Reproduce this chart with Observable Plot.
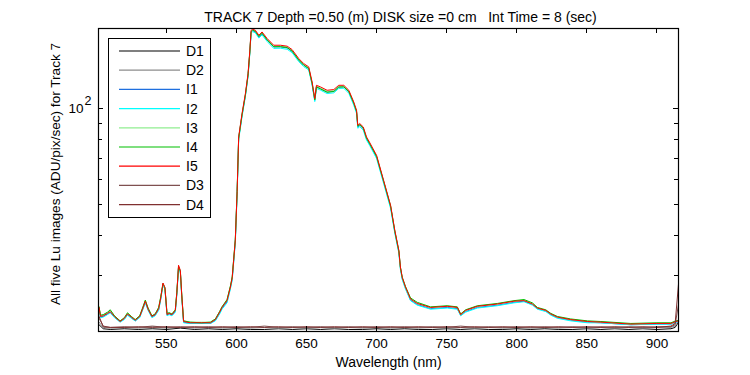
<!DOCTYPE html>
<html><head><meta charset="utf-8">
<script src="https://cdn.jsdelivr.net/npm/d3@7"></script>
<script src="https://cdn.jsdelivr.net/npm/@observablehq/plot@0.6"></script>
<style>
body{margin:0;background:#fff}
svg{font-family:"Liberation Sans",Arial,sans-serif}
</style>
</head><body><div id="chart"></div>
<script>
// ---- data ----
const title = "TRACK 7 Depth =0.50 (m) DISK size =0 cm   Int Time = 8 (sec)";
const xLabel = "Wavelength (nm)";
const yLabel = "All five Lu images (ADU/pix/sec) for Track 7";
const xTicks = [550, 600, 650, 700, 750, 800, 850, 900];
const yMajorTicks = [100];
const yMajorBase = "10";
const yMajorExponent = "2";
const yMinorTicks = [20, 30, 40, 50, 60, 70, 80, 90];
const seriesNames = ["D1", "D2", "I1", "I2", "I3", "I4", "I5", "D3", "D4"];
const seriesColors = ["#000000", "#8c8c8c", "#1f6fdf", "#00ffff", "#90ee90", "#00c000", "#ff0000", "#7f5050", "#803030"];

// wavelengths for the illuminated (I) spectra
const wl = [
  502, 503, 505, 508, 510, 513, 517, 520, 522.3, 525,
  527.8, 531, 533, 535, 537, 539.7, 542, 544.5, 546, 547.6,
  549, 550.5, 552, 554, 556.4, 557.5, 558.7, 560, 561, 562.3,
  567, 575, 581.4, 585, 588, 589.7, 593.3, 595.7, 597, 598,
  599.2, 600.5, 601.6, 604, 606.4, 608.3, 609.5, 610.5, 611.5, 613.5,
  616, 618.3, 621.9, 626.6, 631.4, 636.2, 639.7, 644.5, 648, 651.6,
  654, 655.9, 657.1, 660, 664.7, 669.5, 673, 676.6, 680.2, 683.7,
  685.7, 686.6, 688, 690.5, 692.8, 695, 700, 705, 710, 713,
  715.9, 717, 718.3, 720.6, 724.2, 729, 738.5, 750.4, 757.6, 760,
  763.5, 771.9, 786.2, 798, 805.2, 811.2, 814.7, 820.7, 824.3, 829,
  838.5, 850.4, 860, 881.4, 900, 910, 913.5, 915.4
];
const I1 = [
  23.7, 22.2, 22.3, 22.7, 23.0, 22.2, 21.5, 21.9, 22.6, 22.1,
  21.6, 22.2, 23.4, 24.7, 23.4, 22.2, 22.5, 23.4, 25.3, 28.1,
  27.2, 22.5, 22.7, 22.5, 23.1, 26.3, 31.9, 30.8, 25.8, 21.4,
  21.2, 21.2, 21.2, 21.7, 22.8, 23.6, 24.8, 27.4, 29.2, 33.0,
  38.3, 54.3, 80.7, 95.4, 110.4, 127.6, 149.3, 174.6, 176.0, 174.9,
  168.4, 172.4, 164.5, 156.6, 156.7, 155.5, 151.8, 142.2, 137.2, 133.9,
  120.0, 106.5, 117.2, 115.8, 113.0, 113.6, 117.2, 117.3, 113.1, 103.9,
  97.9, 87.8, 88.9, 86.7, 80.7, 77.6, 70.6, 59.0, 49.2, 41.1,
  35.5, 31.6, 29.3, 27.4, 25.1, 24.3, 23.6, 23.8, 23.6, 22.5,
  23.1, 23.8, 24.2, 24.7, 24.9, 24.3, 23.6, 23.2, 22.6, 22.1,
  21.7, 21.4, 21.3, 21.0, 21.1, 21.1, 21.4, 21.5
];
const I2 = [
  23.6, 22.1, 22.2, 22.6, 22.9, 22.1, 21.4, 21.8, 22.5, 22.0,
  21.6, 22.1, 23.3, 24.6, 23.3, 22.1, 22.4, 23.3, 25.2, 28.0,
  27.1, 22.4, 22.6, 22.4, 23.0, 26.1, 31.6, 30.6, 25.6, 21.3,
  21.2, 21.2, 21.2, 21.6, 22.7, 23.5, 24.6, 27.2, 29.0, 32.8,
  38.0, 53.8, 80.0, 94.5, 109.5, 126.5, 148.0, 173.0, 175.0, 173.5,
  167.0, 170.8, 163.0, 155.0, 155.2, 154.0, 150.3, 140.8, 135.9, 132.6,
  118.9, 105.5, 116.0, 114.6, 111.8, 112.4, 116.0, 116.2, 112.0, 102.8,
  96.9, 87.0, 88.0, 85.8, 79.9, 76.9, 69.9, 58.4, 48.7, 40.7,
  35.2, 31.3, 29.1, 27.2, 25.0, 24.2, 23.5, 23.7, 23.5, 22.4,
  23.0, 23.7, 24.1, 24.6, 24.8, 24.2, 23.5, 23.1, 22.5, 22.0,
  21.6, 21.3, 21.3, 21.0, 21.1, 21.1, 21.4, 21.5
];
const I3 = [
  23.9, 22.4, 22.5, 22.9, 23.3, 22.4, 21.6, 22.0, 22.8, 22.3,
  21.8, 22.4, 23.6, 25.0, 23.6, 22.4, 22.7, 23.7, 25.6, 28.2,
  27.4, 22.7, 22.9, 22.7, 23.4, 26.6, 32.1, 31.0, 26.1, 21.6,
  21.4, 21.4, 21.4, 21.9, 23.1, 23.9, 25.1, 27.7, 29.6, 33.5,
  38.8, 55.2, 81.5, 96.2, 111.0, 128.4, 150.2, 175.5, 177.2, 175.8,
  169.6, 173.5, 165.4, 157.4, 157.6, 156.4, 152.6, 143.0, 137.9, 134.6,
  120.8, 107.2, 118.0, 116.5, 113.6, 114.2, 117.8, 117.9, 113.8, 104.6,
  98.5, 88.5, 89.5, 87.3, 81.2, 78.1, 71.1, 59.4, 49.6, 41.4,
  35.8, 31.8, 29.5, 27.6, 25.3, 24.5, 23.8, 24.0, 23.8, 22.6,
  23.3, 24.0, 24.4, 24.9, 25.1, 24.4, 23.7, 23.3, 22.7, 22.2,
  21.8, 21.5, 21.4, 21.1, 21.2, 21.2, 21.5, 21.6
];
const I4 = [
  23.9, 22.5, 22.6, 23.0, 23.4, 22.4, 21.6, 22.1, 22.9, 22.3,
  21.8, 22.4, 23.7, 25.1, 23.7, 22.4, 22.7, 23.8, 25.7, 28.3,
  27.4, 22.8, 22.9, 22.7, 23.4, 26.6, 32.0, 30.9, 26.1, 21.6,
  21.4, 21.3, 21.4, 21.9, 23.1, 23.9, 25.2, 27.8, 29.7, 33.6,
  38.9, 55.0, 81.0, 95.8, 110.6, 127.9, 149.8, 175.2, 176.8, 175.4,
  169.0, 173.0, 164.9, 156.9, 157.0, 155.9, 152.0, 142.4, 137.4, 134.0,
  120.2, 106.8, 117.4, 115.6, 112.9, 113.5, 117.2, 117.4, 113.4, 104.3,
  98.2, 88.3, 89.3, 87.1, 81.0, 77.9, 70.9, 59.3, 49.5, 41.3,
  35.8, 31.8, 29.6, 27.7, 25.5, 24.7, 23.9, 24.1, 23.9, 22.7,
  23.4, 24.1, 24.5, 25.0, 25.2, 24.6, 23.8, 23.4, 22.8, 22.3,
  21.9, 21.6, 21.5, 21.2, 21.3, 21.3, 21.6, 21.7
];
const I5 = [
  23.8, 22.3, 22.4, 22.8, 23.1, 22.3, 21.5, 22.0, 22.7, 22.2,
  21.7, 22.3, 23.5, 24.9, 23.5, 22.3, 22.6, 23.6, 25.5, 28.4,
  27.5, 22.6, 22.8, 22.6, 23.3, 26.5, 32.3, 31.1, 26.0, 21.5,
  21.3, 21.3, 21.3, 21.8, 23.0, 23.8, 25.0, 27.6, 29.5, 33.4,
  38.7, 55.0, 81.7, 96.7, 111.8, 129.2, 151.1, 176.8, 178.0, 176.8,
  170.5, 174.6, 166.5, 158.6, 158.6, 157.5, 153.7, 144.0, 138.9, 135.6,
  121.6, 107.8, 118.7, 117.3, 114.5, 115.1, 118.7, 118.7, 114.5, 105.2,
  99.1, 88.9, 90.0, 87.8, 81.7, 78.6, 71.5, 59.7, 49.8, 41.6,
  35.9, 31.9, 29.6, 27.6, 25.3, 24.5, 23.8, 24.0, 23.8, 22.6,
  23.3, 24.0, 24.4, 24.9, 25.0, 24.4, 23.7, 23.3, 22.7, 22.2,
  21.8, 21.5, 21.4, 21.1, 21.2, 21.2, 21.5, 21.6
];

// wavelengths for the dark (D) spectra
const wlDark = [
  502, 505, 510, 520, 530, 540, 550, 560, 570, 580,
  590, 600, 610, 620, 630, 640, 650, 660, 670, 680,
  690, 700, 710, 720, 730, 740, 750, 760, 770, 780,
  790, 800, 810, 820, 830, 840, 850, 860, 870, 880,
  890, 900, 910, 913, 915.4
];
const D1 = [
  21.0, 20.4, 20.3, 20.4, 20.3, 20.4, 20.3, 20.5, 20.3, 20.4,
  20.3, 20.4, 20.3, 20.3, 20.4, 20.3, 20.4, 20.3, 20.4, 20.3,
  20.3, 20.4, 20.3, 20.4, 20.3, 20.3, 20.4, 20.3, 20.4, 20.3,
  20.3, 20.4, 20.3, 20.4, 20.3, 20.3, 20.4, 20.3, 20.4, 20.3,
  20.4, 20.3, 20.4, 20.6, 21.4
];
const D2 = [
  21.4, 20.6, 20.5, 20.6, 20.5, 20.7, 20.5, 20.6, 20.5, 20.6,
  20.5, 20.6, 20.5, 20.6, 20.5, 20.6, 20.5, 20.6, 20.5, 20.6,
  20.5, 20.6, 20.5, 20.6, 20.5, 20.6, 20.5, 20.6, 20.5, 20.6,
  20.5, 20.6, 20.5, 20.6, 20.5, 20.6, 20.5, 20.6, 20.5, 20.6,
  20.5, 20.6, 20.6, 20.8, 21.6
];
const D3 = [
  22.0, 20.8, 20.6, 20.7, 20.6, 20.8, 20.6, 20.7, 20.6, 20.7,
  20.6, 20.7, 20.6, 20.8, 20.6, 20.7, 20.6, 20.7, 20.6, 20.7,
  20.6, 20.7, 20.6, 20.7, 20.6, 20.7, 20.6, 20.8, 20.6, 20.7,
  20.6, 20.7, 20.6, 20.7, 20.6, 20.7, 20.6, 20.7, 20.6, 20.7,
  20.6, 20.7, 20.7, 21.0, 24.3
];
const D4 = [
  22.3, 20.7, 20.6, 20.6, 20.7, 20.6, 20.7, 20.6, 20.7, 20.6,
  20.7, 20.6, 20.7, 20.6, 20.7, 20.6, 20.7, 20.6, 20.7, 20.6,
  20.7, 20.6, 20.7, 20.6, 20.7, 20.6, 20.7, 20.6, 20.7, 20.6,
  20.7, 20.6, 20.7, 20.6, 20.7, 20.6, 20.7, 20.6, 20.7, 20.6,
  20.7, 20.6, 20.8, 21.2, 28.2
];

// ---- build table ----
const seriesData = {
  D1: [wlDark, D1], D2: [wlDark, D2], I1: [wl, I1], I2: [wl, I2], I3: [wl, I3],
  I4: [wl, I4], I5: [wl, I5], D3: [wlDark, D3], D4: [wlDark, D4]
};
const tables = seriesNames.map(name => {
  const [xs, ys] = seriesData[name];
  return d3.zip(xs, ys).map(([w, v]) => ({name, w, v}));
});

const M = {left: 98, right: 72, top: 28, bottom: 44};
const W = 750, H = 375;
const FONT = "Liberation Sans, Arial, sans-serif";

const chart = Plot.plot({
  width: W, height: H,
  marginLeft: M.left, marginRight: M.right, marginTop: M.top, marginBottom: M.bottom,
  style: {fontFamily: FONT, fontSize: "13px", background: "#fff", color: "#000"},
  x: {domain: [501.6, 915.4]},
  y: {type: "log", domain: [20, 179]},
  marks: [
    ...tables.map((t, i) => Plot.line(t, {x: "w", y: "v", stroke: seriesColors[i], strokeWidth: 1})),
    Plot.frame({stroke: "#000", strokeWidth: 1.2}),
    Plot.axisX(xTicks, {tickSize: 0, tickPadding: 7, fontSize: 13.5, label: null}),
    Plot.axisY(yMajorTicks, {tickSize: 0, tickPadding: 15, fontSize: 13.5, label: null, tickFormat: () => yMajorBase}),
    Plot.text([title], {frameAnchor: "top", dx: 12, dy: -16, fontSize: 14}),
    Plot.text([xLabel], {frameAnchor: "bottom", dy: 35, fontSize: 14}),
    Plot.text([yLabel], {frameAnchor: "left", textAnchor: "middle", dx: -43, dy: -6, rotate: -90, fontSize: 13.6})
  ]
});

// ---- inward ticks using the plot's scales ----
const sx = chart.scale("x"), sy = chart.scale("y");
const svg = d3.select(chart);
const frameTop = M.top, frameBottom = H - M.bottom, frameLeft = M.left, frameRight = W - M.right;
const g = svg.append("g").attr("stroke", "#000").attr("stroke-width", 1);
for (const t of xTicks) {
  const x = Math.round(sx.apply(t)) + 0.5;
  g.append("line").attr("x1", x).attr("x2", x).attr("y1", frameBottom).attr("y2", frameBottom - 5);
  g.append("line").attr("x1", x).attr("x2", x).attr("y1", frameTop).attr("y2", frameTop + 5);
}
for (const t of [...yMajorTicks, ...yMinorTicks]) {
  const y = Math.round(sy.apply(t)) + 0.5;
  const len = yMajorTicks.includes(t) ? 5 : 4;
  g.append("line").attr("x1", frameLeft).attr("x2", frameLeft + len).attr("y1", y).attr("y2", y);
  g.append("line").attr("x1", frameRight).attr("x2", frameRight - len).attr("y1", y).attr("y2", y);
}
// exponent of the "10^2" tick label
for (const t of yMajorTicks) {
  svg.append("text").attr("x", frameLeft - 13.5).attr("y", sy.apply(t) - 8)
    .attr("dy", "0.35em").attr("text-anchor", "start").attr("font-family", FONT)
    .attr("font-size", 12.5).attr("fill", "#000").text(yMajorExponent);
}

// ---- legend box ----
const lg = svg.append("g").attr("font-family", FONT).attr("font-size", 14).attr("text-anchor", "start");
lg.append("rect").attr("x", 108.5).attr("y", 38.5).attr("width", 102).attr("height", 179)
  .attr("fill", "#fff").attr("stroke", "#000").attr("stroke-width", 1);
seriesNames.forEach((name, i) => {
  const y = 51 + i * 19.2;
  lg.append("line").attr("x1", 119).attr("x2", 180).attr("y1", y).attr("y2", y)
    .attr("stroke", seriesColors[i]).attr("stroke-width", 1.2);
  lg.append("text").attr("x", 186).attr("y", y).attr("dy", "0.35em").attr("fill", "#000")
    .attr("text-anchor", "start").text(name);
});

document.getElementById("chart").appendChild(chart);
</script>
</body></html>
